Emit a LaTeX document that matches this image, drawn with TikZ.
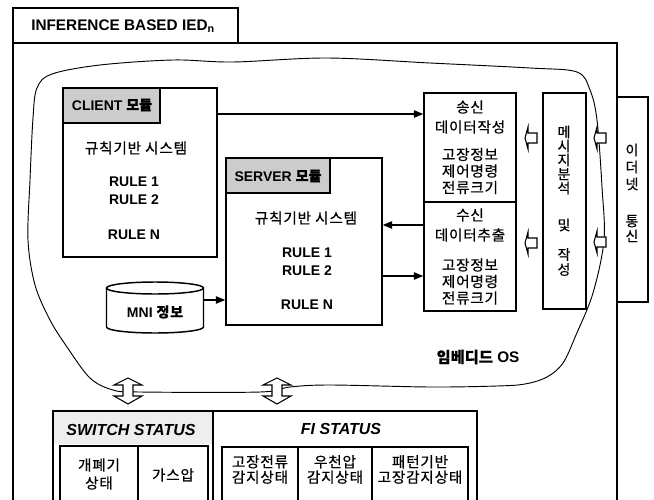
\documentclass[tikz,border=0pt]{standalone}
\usepackage{fontspec}
\setmainfont{Liberation Sans}
\newfontfamily\kr[LetterSpace=5,FakeBold=0.5]{Noto Sans CJK KR}
\newfontfamily\krt[FakeBold=0.5]{Noto Sans CJK KR}
\usetikzlibrary{fit,arrows.meta}
\begin{document}
\begin{tikzpicture}[x=0.75pt,y=-0.75pt,line join=miter,
  box/.style={draw,line width=1.1pt,inner sep=0pt},
  lbl/.style={font=\bfseries\fontsize{10.5}{13.5}\selectfont,inner sep=0pt,align=center},
  krl/.style={font=\kr\fontsize{11}{12.4}\selectfont,inner sep=0pt,align=center},
  arr/.style={line width=0.9pt,-{Triangle[length=7pt,width=5.5pt]}},
  harrow/.pic={\draw[line width=0.8pt,fill=white] (-6,0)--(-3,-11)--(-3,-5)--(6,-5)--(6,5)--(-3,5)--(-3,11)--cycle;},
  vdarrow/.pic={\draw[line width=0.8pt,fill=white] (0,-13)--(14,-6)--(5,-6)--(5,5)--(14,5)--(0,13)--(-14,5)--(-5,5)--(-5,-6)--(-14,-6)--cycle;}]
\useasboundingbox (0,0) rectangle (654,500);

% outer frame
\node[box,fit={(13,8)(238,43)}] (tab) {};
\node[lbl,font=\bfseries\fontsize{11.5}{13}\selectfont,anchor=west] (title) at (31,26) {INFERENCE BASED IED\textsubscript{n}};
\draw[line width=1.1pt] (13,520) -- (13,43) -- (617,43) -- (617,520);

% embedded OS blob
\draw[line width=0.7pt] plot[smooth cycle,tension=0.55] coordinates {
 (33,118) (37,88) (52,74) (100,65) (173,60) (233,62) (327,58) (430,63) (530,68) (577,72)
 (590,90) (597,120) (602,187) (604,240) (593,293) (576,335) (563,363) (547,377) (525,384)
 (497,386) (430,387) (330,385) (290,387) (260,392) (140,392) (113,390) (90,378) (67,347)
 (50,320) (35,285) (28,240) (30,180)};
\node[lbl,font=\bfseries\fontsize{11.5}{13}\selectfont] (os) at (478,357) {{\krt\bfseries 임베디드} OS};

% client
\node[box,fit={(63,88)(217,257)}] (client) {};
\node[box,fill=gray!40,fit={(63,88)(160,123)}] (chdr) {};
\node[lbl] (ctitle) at (112,105) {CLIENT {\krt\bfseries 모듈}};
\node[krl] (crule) at (136,148) {규칙기반 시스템};
\node[lbl] (cr12) at (134,191) {RULE 1\\RULE 2};
\node[lbl] (crn) at (134,235) {RULE N};

% server
\node[box,fit={(226,158)(382,325)}] (server) {};
\node[box,fill=gray!40,fit={(226,158)(330,193)}] (shdr) {};
\node[lbl] (stitle) at (278,176) {SERVER {\krt\bfseries 모듈}};
\node[krl] (srule) at (306,218) {규칙기반 시스템};
\node[lbl] (sr12) at (307,262) {RULE 1\\RULE 2};
\node[lbl] (srn) at (307,305) {RULE N};

% MNI database
\node[inner sep=0pt,fit={(107,282)(204,333)}] (mni) {};
\draw[line width=1.1pt,fill=white] (106.5,288) -- (106.5,327) arc[start angle=180,end angle=0,x radius=48.5,y radius=6] -- (203.5,288);
\draw[line width=1.1pt] (155,288) ellipse[x radius=48.5,y radius=6];
\node[lbl] (mnit) at (155,312) {MNI {\kr 정보}};

% send / receive
\node[box,fit={(424,93)(516,202)}] (send) {};
\node[box,fit={(424,202)(516,311)}] (recv) {};
\node[krl,font=\kr\fontsize{11}{15}\selectfont] (sendt) at (470,117) {송신\\데이터작성};
\node[krl] (sendb) at (470,171) {고장정보\\제어명령\\전류크기};
\node[krl,font=\kr\fontsize{11}{15}\selectfont] (recvt) at (470,225) {수신\\데이터추출};
\node[krl] (recvb) at (470,281.5) {고장정보\\제어명령\\전류크기};

% message box
\node[box,fit={(543,93)(586,309)}] (msg) {};
\node[inner sep=0pt,align=center,font=\krt\fontsize{10.5}{10.5}\selectfont] (msga) at (564,160) {메\\시\\지\\분\\석};
\node[inner sep=0pt,font=\krt\fontsize{10.5}{10.5}\selectfont] (msgb) at (564,225) {및};
\node[inner sep=0pt,align=center,font=\krt\fontsize{10.5}{11.25}\selectfont] (msgc) at (564,262) {작\\성};

% ethernet box
\node[box,fill=white,fit={(617,97)(648,302)}] (eth) {};
\node[inner sep=0pt,align=center,font=\krt\fontsize{10.5}{12.75}\selectfont] (etha) at (632,167) {이\\더\\넷};
\node[inner sep=0pt,align=center,font=\krt\fontsize{10.5}{11.25}\selectfont] (ethb) at (632,228.5) {통\\신};

% connectors
\coordinate (ya) at (0,114);
\coordinate (yb) at (0,225);
\coordinate (yc) at (0,276);
\coordinate (yd) at (0,300);
\draw[arr] (client.east |- ya) -- (send.west |- ya);
\draw[arr] (recv.west |- yb) -- (server.east |- yb);
\draw[arr] (server.east |- yc) -- (recv.west |- yc);
\draw[arr] (mni.east |- yd) -- (server.west |- yd);

% small hollow arrows
\pic at (531,138) {harrow};
\pic at (531,243) {harrow};
\pic at (600,138) {harrow};
\pic at (600,242) {harrow};

% vertical double arrows
\pic at (128,391) {vdarrow};
\pic at (277,391) {vdarrow};

% bottom status boxes
\node[fill=gray!13,inner sep=0pt,fit={(53,411)(213,444)}] (swhdr) {};
\node[box,fit={(53,411)(213,520)}] (sw) {};
\node[box,fit={(213,411)(477,520)}] (fi) {};
\node[lbl,font=\bfseries\itshape\fontsize{12}{13}\selectfont] (swt) at (131,430) {SWITCH STATUS};
\node[lbl,font=\bfseries\itshape\fontsize{12}{13}\selectfont] (fit) at (341,429) {FI STATUS};
\node[box,fit={(60,446)(138,520)}] (sw1) {};
\node[box,fit={(138,446)(208,520)}] (sw2) {};
\node[box,fit={(222,447)(298,520)}] (fi1) {};
\node[box,fit={(298,447)(372,520)}] (fi2) {};
\node[box,fit={(372,447)(468,520)}] (fi3) {};
\node[krl,font=\kr\fontsize{11}{13.5}\selectfont] (sw1t) at (99,474) {개폐기\\상태};
\node[krl] (sw2t) at (173,475) {가스압};
\node[krl,font=\kr\fontsize{11}{11.5}\selectfont] (fi1t) at (260,469.5) {고장전류\\감지상태};
\node[krl,font=\kr\fontsize{11}{11.5}\selectfont] (fi2t) at (335,469.5) {우천압\\감지상태};
\node[krl,font=\kr\fontsize{11}{11.5}\selectfont] (fi3t) at (420,469.5) {패턴기반\\고장감지상태};
\end{tikzpicture}
\end{document}
